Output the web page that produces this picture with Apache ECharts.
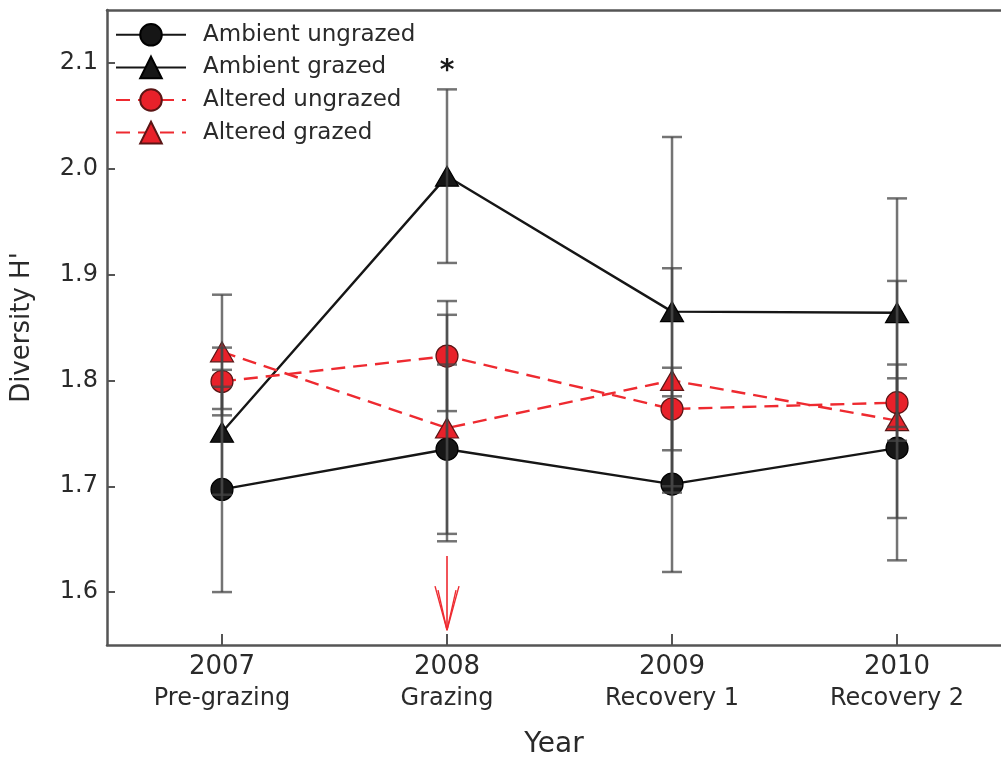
<!DOCTYPE html>
<html>
<head>
<meta charset="utf-8">
<script src="https://cdn.jsdelivr.net/npm/echarts@6/dist/echarts.min.js"></script>
<style>
html,body{margin:0;padding:0;background:#fff;}
#chart{width:1001px;height:757px;}
</style>
</head>
<body>
<div id="chart"></div>
<script>
// ---- data ----
const years = [2007, 2008, 2009, 2010];
const phases = ['Pre-grazing', 'Grazing', 'Recovery 1', 'Recovery 2'];
const yTicks = [1.6, 1.7, 1.8, 1.9, 2.0, 2.1];
const seriesNames = ['Ambient ungrazed', 'Ambient grazed', 'Altered ungrazed', 'Altered grazed'];
const ambientUngrazed = [1.697, 1.735, 1.702, 1.736];
const ambientUngrazedSE = [0.097, 0.080, 0.083, 0.066];
const ambientGrazed = [1.751, 1.993, 1.865, 1.864];
const ambientGrazedSE = [0.059, 0.082, 0.165, 0.108];
const alteredUngrazed = [1.799, 1.823, 1.773, 1.779];
const alteredUngrazedSE = [0.032, 0.052, 0.039, 0.036];
const alteredGrazed = [1.827, 1.755, 1.800, 1.762];
const alteredGrazedSE = [0.054, 0.107, 0.106, 0.132];
const significance = [[2008, 2.075, '*']];     // year, value above which the star sits
const grazingArrow = [[2008, 1.634, 1.564]];   // year, arrow start, arrow tip

const FONT = "'DejaVu Sans', 'Liberation Sans', Arial, sans-serif";
const RED = '#ee2a30';
const BLACK = '#161616';

function pts(vals) { return years.map((y, i) => [y, vals[i]]); }
function errData(vals, se) { return years.map((y, i) => [y, vals[i] - se[i], vals[i] + se[i]]); }

function errorSeries(vals, se) {
  return {
    type: 'custom',
    data: errData(vals, se),
    z: 5,
    silent: true,
    renderItem: function (params, api) {
      const x = api.value(0);
      const lo = api.coord([x, api.value(1)]);
      const hi = api.coord([x, api.value(2)]);
      const hw = 10;
      const style = { stroke: 'rgba(70,70,70,0.75)', lineWidth: 2.5 };
      return {
        type: 'group',
        children: [
          { type: 'line', shape: { x1: lo[0], y1: lo[1], x2: hi[0], y2: hi[1] }, style: style },
          { type: 'line', shape: { x1: lo[0] - hw, y1: lo[1], x2: lo[0] + hw, y2: lo[1] }, style: style },
          { type: 'line', shape: { x1: hi[0] - hw, y1: hi[1], x2: hi[0] + hw, y2: hi[1] }, style: style }
        ]
      };
    }
  };
}

function lineSeries(name, vals, color, dashed, symbol, fill, border) {
  return {
    name: name,
    type: 'line',
    data: pts(vals),
    symbol: symbol,
    symbolSize: symbol === 'triangle' ? [23, 20] : 22,
    z: 3,
    lineStyle: { color: color, width: 2.4, type: dashed ? [14, 8] : 'solid' },
    itemStyle: { color: fill, borderColor: border, borderWidth: 1.2, opacity: 1 },
    emphasis: { disabled: true },
    animation: false
  };
}

const chart = echarts.init(document.getElementById('chart'), null, { renderer: 'canvas' });

const option = {
  backgroundColor: '#fff',
  animation: false,
  grid: { left: 107, right: 0, top: 10, bottom: 112, containLabel: false, outerBoundsMode: 'none' },
  legend: {
    orient: 'vertical',
    left: 115,
    top: 23,
    padding: 0,
    itemWidth: 70,
    itemHeight: 27,
    itemGap: 9,
    data: seriesNames,
    textStyle: { fontFamily: FONT, fontSize: 23, color: '#2a2a2a', padding: [0, 0, 0, 12] }
  },
  xAxis: [{
    type: 'value',
    min: 2006.489,
    max: 2010.462,
    position: 'bottom',
    name: 'Year',
    nameLocation: 'middle',
    nameGap: 86,
    nameTextStyle: { fontFamily: FONT, fontSize: 28, color: '#2a2a2a' },
    axisLine: { show: true, lineStyle: { color: '#555', width: 2.5 } },
    axisTick: { show: true, inside: true, length: 11, customValues: years, lineStyle: { color: '#555', width: 2 } },
    splitLine: { show: false },
    axisLabel: {
      customValues: years,
      margin: 6,
      formatter: function (v) {
        const i = years.indexOf(Math.round(v));
        return '{a|' + years[i] + '}\n{b|' + phases[i] + '}';
      },
      rich: {
        a: { fontFamily: FONT, fontSize: 26, color: '#2a2a2a', lineHeight: 32, align: 'center' },
        b: { fontFamily: FONT, fontSize: 24, color: '#2a2a2a', lineHeight: 32, align: 'center' }
      }
    }
  }, {
    type: 'value',
    min: 2006.489,
    max: 2010.462,
    position: 'top',
    axisLine: { show: true, lineStyle: { color: '#555', width: 2.5 } },
    axisTick: { show: false },
    axisLabel: { show: false },
    splitLine: { show: false }
  }],
  yAxis: {
    type: 'value',
    min: 1.55,
    max: 2.15,
    name: "Diversity H'",
    nameLocation: 'middle',
    nameGap: 72,
    nameRotate: 90,
    nameTextStyle: { fontFamily: FONT, fontSize: 26, color: '#2a2a2a' },
    axisLine: { show: true, lineStyle: { color: '#555', width: 2.5 } },
    axisTick: { show: true, inside: true, length: 8, customValues: yTicks, lineStyle: { color: '#555', width: 2 } },
    splitLine: { show: false },
    axisLabel: {
      customValues: yTicks,
      margin: 9,
      fontFamily: FONT,
      fontSize: 24,
      color: '#2a2a2a',
      formatter: function (v) { return v.toFixed(1); }
    }
  },
  series: [
    lineSeries(seriesNames[0], ambientUngrazed, BLACK, false, 'circle', BLACK, '#000'),
    lineSeries(seriesNames[1], ambientGrazed, BLACK, false, 'triangle', BLACK, '#000'),
    lineSeries(seriesNames[2], alteredUngrazed, RED, true, 'circle', '#e8212a', '#5a1515'),
    lineSeries(seriesNames[3], alteredGrazed, RED, true, 'triangle', '#e8212a', '#5a1515'),
    errorSeries(ambientUngrazed, ambientUngrazedSE),
    errorSeries(ambientGrazed, ambientGrazedSE),
    errorSeries(alteredUngrazed, alteredUngrazedSE),
    errorSeries(alteredGrazed, alteredGrazedSE),
    {
      type: 'custom',
      data: significance,
      silent: true,
      z: 6,
      renderItem: function (params, api) {
        const p = api.coord([api.value(0), api.value(1)]);
        return {
          type: 'text',
          x: p[0], y: p[1] - 4,
          style: { text: significance[params.dataIndex][2], fontFamily: FONT, fontSize: 28, fontWeight: 'bold', fill: '#1a1a1a', align: 'center', verticalAlign: 'bottom' }
        };
      }
    },
    {
      type: 'custom',
      data: grazingArrow,
      silent: true,
      z: 6,
      renderItem: function (params, api) {
        const a = api.coord([api.value(0), api.value(1)]);
        const b = api.coord([api.value(0), api.value(2)]);
        const st = { stroke: RED, lineWidth: 1.4 };
        const children = [{ type: 'line', shape: { x1: a[0], y1: a[1], x2: b[0], y2: b[1] }, style: { stroke: RED, lineWidth: 1.6 } }];
        [[-12, 44], [-9, 40], [9, 40], [12, 44]].forEach(function (d) {
          children.push({ type: 'line', shape: { x1: b[0] + d[0], y1: b[1] - d[1], x2: b[0], y2: b[1] }, style: st });
        });
        return { type: 'group', children: children };
      }
    }
  ]
};

chart.setOption(option);
</script>
</body>
</html>
